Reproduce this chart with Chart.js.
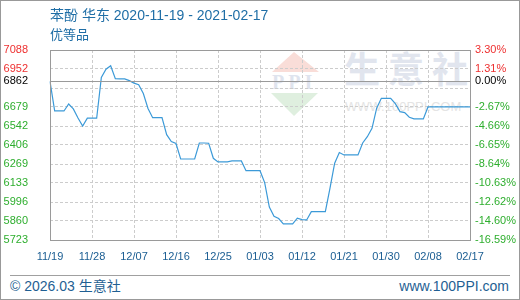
<!DOCTYPE html>
<html>
<head>
<meta charset="utf-8">
<script src="https://cdn.jsdelivr.net/npm/chart.js@4.4.0/dist/chart.umd.min.js"></script>
<style>
  body { margin: 0; background: #fff; }
  #box {
    position: relative; width: 520px; height: 300px; overflow: hidden;
    background: #fff; box-shadow: inset 0 0 0 1px #999;
    font-family: "Liberation Sans", "Noto Sans CJK SC", sans-serif;
  }
  #chart { position: absolute; left: 0; top: 0; z-index: 2; }
  .t { position: absolute; white-space: nowrap; line-height: 1; }
  #title { left: 50px; top: 8px; font-size: 14px; color: #1f6ea6; z-index: 3; }
  #grade { left: 50px; top: 28px; font-size: 13px; color: #1f6ea6; z-index: 3; }
  #rule { position: absolute; left: 10px; top: 275px; width: 500px; height: 1px; background: #a0a0a0; }
  #copy { left: 10px; top: 279px; font-size: 14px; color: #1f5f93; }
  #site { right: 11px; top: 279px; font-size: 14px; color: #1f5f93; }
  #wmName { left: 344px; top: 53px; font-size: 36px; font-weight: bold; letter-spacing: 8px; color: #e1e5ee; z-index: 1; }
  #wmUrl { left: 345px; top: 100px; font-size: 13px; color: #e4e4e4; z-index: 1; }
  #wmPPI { left: 272px; top: 72px; font-family: "Liberation Serif", serif; font-size: 20px; font-weight: bold; letter-spacing: 4px; color: #dfe4ee; z-index: 1; }
</style>
</head>
<body>
<div id="box">
  <div class="t" id="wmName">生意社</div>
  <div class="t" id="wmUrl">WWW.100PPI.COM</div>
  <div class="t" id="wmPPI">PPI</div>
  <canvas id="chart" width="520" height="300"></canvas>
  <div class="t" id="title">苯酚 华东 2020-11-19 - 2021-02-17</div>
  <div class="t" id="grade">优等品</div>
  <div id="rule"></div>
  <div class="t" id="copy">© 2026.03 生意社</div>
  <div class="t" id="site">www.100PPI.com</div>
</div>
<script>
// --- data ---
const dates = [
  "11/19","11/20","11/21","11/22","11/23","11/24","11/25","11/26","11/27","11/28","11/29","11/30",
  "12/01","12/02","12/03","12/04","12/05","12/06","12/07","12/08","12/09","12/10","12/11","12/12",
  "12/13","12/14","12/15","12/16","12/17","12/18","12/19","12/20","12/21","12/22","12/23","12/24",
  "12/25","12/26","12/27","12/28","12/29","12/30","12/31",
  "01/01","01/02","01/03","01/04","01/05","01/06","01/07","01/08","01/09","01/10","01/11","01/12",
  "01/13","01/14","01/15","01/16","01/17","01/18","01/19","01/20","01/21","01/22","01/23","01/24",
  "01/25","01/26","01/27","01/28","01/29","01/30","01/31",
  "02/01","02/02","02/03","02/04","02/05","02/06","02/07","02/08","02/09","02/10","02/11","02/12",
  "02/13","02/14","02/15","02/16","02/17"
];
const prices = [
  6862, 6650, 6650, 6650, 6700, 6665, 6600, 6542, 6598, 6598,
  6598, 6890, 6950, 6975, 6882, 6880, 6880, 6868, 6850, 6838,
  6775, 6668, 6602, 6602, 6602, 6480, 6430, 6416, 6305, 6305,
  6305, 6305, 6420, 6420, 6418, 6310, 6284, 6284, 6284, 6291,
  6291, 6291, 6221, 6221, 6221, 6221, 6135, 5960, 5893, 5877,
  5839, 5839, 5839, 5880, 5870, 5867, 5927, 5927, 5927, 5927,
  6095, 6275, 6351, 6334, 6334, 6334, 6334, 6420, 6465, 6525,
  6670, 6741, 6741, 6741, 6703, 6645, 6638, 6605, 6593, 6593,
  6593, 6679, 6679, 6679, 6679, 6679, 6679, 6679, 6679, 6679,
  6679
];
const basePrice = 6862;
const yTicks = [7088, 6952, 6815, 6679, 6542, 6406, 6269, 6133, 5996, 5860, 5723];
const leftLabels = ["7088", "6952", "", "6679", "6542", "6406", "6269", "6133", "5996", "5860", "5723"];
const rightLabels = ["3.30%", "1.31%", "", "-2.67%", "-4.66%", "-6.65%", "-8.64%", "-10.63%", "-12.62%", "-14.60%", "-16.59%"];
const baseLeftLabel = "6862";
const baseRightLabel = "0.00%";
const xStep = 9;

const RED = "#ee3030", GREEN = "#2eae2e", GRID = "#cccccc", FRAME = "#9a9a9a";
const tickFont = { family: "'Liberation Sans', sans-serif", size: 11 };

function setTicks(scale) {
  scale.ticks = yTicks.map(v => ({ value: v })).concat([{ value: basePrice }]);
}
function tickColor(ctx) {
  const v = ctx.tick.value;
  if (v === basePrice) return "#000";
  return v > basePrice ? RED : GREEN;
}

// logo shapes + frame + base line
const decor = {
  id: "decor",
  beforeDraw(chart) {
    const c = chart.ctx;
    c.save();
    c.fillStyle = "#f9ddd8";
    c.beginPath(); c.moveTo(294, 52); c.lineTo(319, 72); c.lineTo(272, 72); c.closePath(); c.fill();
    c.fillStyle = "#dfefdf";
    c.beginPath(); c.moveTo(271, 93); c.lineTo(318, 93); c.lineTo(294, 116); c.closePath(); c.fill();
    c.restore();
  },
  afterDraw(chart) {
    const c = chart.ctx, a = chart.chartArea;
    const y = Math.round(chart.scales.y.getPixelForValue(basePrice)) + 0.5;
    c.save();
    c.strokeStyle = FRAME;
    c.lineWidth = 1;
    c.beginPath(); c.moveTo(a.left, y); c.lineTo(a.right, y); c.stroke();
    c.strokeRect(Math.round(a.left) + 0.5, Math.round(a.top) + 0.5,
      Math.round(a.right - a.left), Math.round(a.bottom - a.top));
    c.restore();
  }
};

new Chart(document.getElementById("chart"), {
  type: "line",
  data: {
    labels: dates,
    datasets: [{
      data: prices,
      borderColor: "#3c9ad8",
      borderWidth: 1.2,
      pointRadius: 0,
      tension: 0,
      fill: false
    }]
  },
  options: {
    responsive: false,
    animation: false,
    layout: { padding: { top: 50, left: 0, right: 0, bottom: 0 } },
    plugins: { legend: { display: false }, tooltip: { enabled: false } },
    scales: {
      x: {
        type: "category",
        afterFit: s => { s.height = 60; },
        grid: {
          color: ctx => (ctx.index % xStep === 0 ? GRID : "transparent"),
          drawTicks: false
        },
        border: { display: false, dash: [3, 2] },
        ticks: {
          autoSkip: false, maxRotation: 0, minRotation: 0, padding: 10,
          color: "#1a5d92", font: tickFont,
          callback: (v, i) => (i % xStep === 0 ? dates[i] : "")
        }
      },
      y: {
        position: "left",
        min: 5723, max: 7088,
        afterBuildTicks: setTicks,
        afterFit: s => { s.width = 50; },
        grid: {
          color: ctx => (ctx.tick.value === basePrice ? "transparent" : GRID),
          drawTicks: false
        },
        border: { display: false, dash: [3, 2] },
        ticks: {
          padding: 22, font: tickFont, color: tickColor,
          callback: (v, i) => (i < yTicks.length ? leftLabels[i] : baseLeftLabel)
        }
      },
      y2: {
        position: "right",
        min: 5723, max: 7088,
        afterBuildTicks: setTicks,
        afterFit: s => { s.width = 50; },
        grid: { drawOnChartArea: false, drawTicks: false },
        border: { display: false },
        ticks: {
          padding: 5, font: tickFont, color: tickColor,
          callback: (v, i) => (i < yTicks.length ? rightLabels[i] : baseRightLabel)
        }
      }
    }
  },
  plugins: [decor]
});
</script>
</body>
</html>
